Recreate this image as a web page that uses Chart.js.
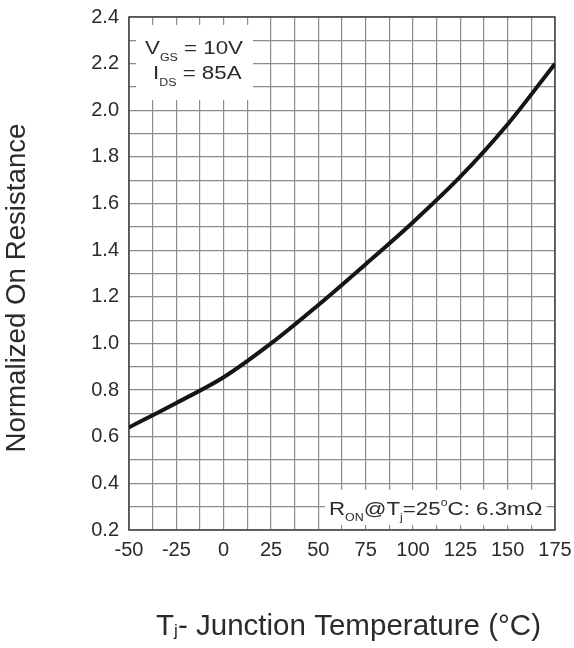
<!DOCTYPE html>
<html>
<head>
<meta charset="utf-8">
<script src="https://cdn.jsdelivr.net/npm/chart.js@4.4.1/dist/chart.umd.min.js"></script>
<style>
  html, body { margin: 0; padding: 0; background: #fff; }
  #wrap { width: 574px; height: 648px; position: relative; }
</style>
</head>
<body>
<div id="wrap"><canvas id="chart"></canvas></div>
<script>
// junction temperature (°C) and normalized on-resistance
const temps = [-50, -25, 0, 25, 50, 75, 100, 125, 150, 175];
const ronNorm = [0.64, 0.745, 0.855, 1.0, 1.165, 1.34, 1.52, 1.715, 1.94, 2.2];

const xMin = -50, xMax = 175, xStep = 12.5;
const yMin = 0.2, yMax = 2.4, yStep = 0.1;

const FONT = "'Liberation Sans', Arial, sans-serif";
const TEXT = "#2b2b2b";
const STRETCH = 1.24; // the figure's labels are drawn wide

// draw text pieces one after another, with small sub/superscripts
function drawRich(ctx, x, y, parts, sx) {
  ctx.save();
  ctx.translate(x, y);
  ctx.scale(sx, 1);
  ctx.fillStyle = TEXT;
  ctx.textBaseline = "alphabetic";
  ctx.textAlign = "left";
  let cx = 0;
  parts.forEach((p) => {
    ctx.font = `${p.size}px ${FONT}`;
    ctx.fillText(p.t, cx, p.dy || 0);
    cx += ctx.measureText(p.t).width;
  });
  ctx.restore();
}

const notes = {
  id: "notes",
  beforeDatasetsDraw(chart) {
    const { ctx, chartArea, scales } = chart;
    const x = scales.x, y = scales.y;

    // plot frame
    ctx.save();
    ctx.strokeStyle = "#4a4a4a";
    ctx.lineWidth = 1.6;
    ctx.strokeRect(chartArea.left, chartArea.top, chartArea.width, chartArea.height);

    // white boxes behind the two notes
    ctx.fillStyle = "#fff";
    const b1l = x.getPixelForValue(-46.3), b1r = x.getPixelForValue(15.5);
    const b1t = y.getPixelForValue(2.366), b1b = y.getPixelForValue(2.044);
    ctx.fillRect(b1l, b1t, b1r - b1l, b1b - b1t);
    const b2l = x.getPixelForValue(53.5), b2r = x.getPixelForValue(170.5);
    const b2t = y.getPixelForValue(0.373), b2b = y.getPixelForValue(0.221);
    ctx.fillRect(b2l, b2t, b2r - b2l, b2b - b2t);
    ctx.restore();

    drawRich(ctx, 145, 54, [
      { t: "V", size: 18 },
      { t: "GS", size: 10, dy: 7 },
      { t: " = 10V", size: 18 },
    ], STRETCH);
    drawRich(ctx, 153, 79, [
      { t: "I", size: 18 },
      { t: "DS", size: 10, dy: 7 },
      { t: " = 85A", size: 18 },
    ], STRETCH);
    drawRich(ctx, 329, 515, [
      { t: "R", size: 18 },
      { t: "ON", size: 10, dy: 6 },
      { t: "@T", size: 18 },
      { t: "j", size: 10, dy: 6 },
      { t: "=25", size: 18 },
      { t: "o", size: 10, dy: -9 },
      { t: "C: 6.3m\u03A9", size: 18 },
    ], STRETCH);
  },
  afterDraw(chart) {
    const { ctx } = chart;
    // x axis title: T with a small j
    ctx.save();
    ctx.font = `29px ${FONT}`;
    const wT = ctx.measureText("T").width;
    const wRest = ctx.measureText("- Junction Temperature (\u00B0C)").width;
    ctx.font = `17px ${FONT}`;
    const wj = ctx.measureText("j").width;
    ctx.restore();
    const total = wT + wj + wRest;
    drawRich(ctx, 156, 635, [
      { t: "T", size: 29 },
      { t: "j", size: 17, dy: 1 },
      { t: "- Junction Temperature (\u00B0C)", size: 29 },
    ], 385 / total);

    // y axis title
    ctx.save();
    ctx.translate(18, 288);
    ctx.rotate(-Math.PI / 2);
    ctx.font = `27px ${FONT}`;
    ctx.fillStyle = TEXT;
    ctx.textAlign = "center";
    ctx.textBaseline = "middle";
    const w = ctx.measureText("Normalized On Resistance").width;
    ctx.scale(329 / w, 1);
    ctx.fillText("Normalized On Resistance", 0, 0);
    ctx.restore();
  },
};

new Chart(document.getElementById("chart"), {
  type: "line",
  data: {
    labels: temps,
    datasets: [
      {
        data: temps.map((t, i) => ({ x: t, y: ronNorm[i] })),
        borderColor: "#151515",
        borderWidth: 4,
        pointRadius: 0,
        cubicInterpolationMode: "monotone",
        fill: false,
      },
    ],
  },
  options: {
    responsive: true,
    maintainAspectRatio: false,
    animation: false,
    layout: { padding: { top: 17, right: 19, left: 0, bottom: 0 } },
    plugins: { legend: { display: false }, tooltip: { enabled: false } },
    scales: {
      x: {
        type: "linear",
        min: xMin,
        max: xMax,
        afterBuildTicks(scale) {
          const ticks = [];
          for (let v = xMin; v <= xMax + 1e-9; v += xStep) ticks.push({ value: v });
          scale.ticks = ticks;
        },
        afterFit(scale) {
          scale.height = 118;
          scale.paddingLeft = 0;
          scale.paddingRight = 0;
        },
        grid: { color: "#8c8c8c", lineWidth: 1.2, drawTicks: false },
        border: { display: false },
        ticks: {
          autoSkip: false,
          maxRotation: 0,
          padding: 8,
          color: TEXT,
          font: { family: FONT, size: 20 },
          callback: (v) => (Math.abs(v % 25) < 1e-9 ? String(v) : ""),
        },
      },
      y: {
        type: "linear",
        min: yMin,
        max: yMax,
        afterBuildTicks(scale) {
          const ticks = [];
          for (let i = 0; i <= Math.round((yMax - yMin) / yStep); i++) {
            ticks.push({ value: +(yMin + i * yStep).toFixed(1) });
          }
          scale.ticks = ticks;
        },
        afterFit(scale) {
          scale.width = 129;
          scale.paddingTop = 0;
          scale.paddingBottom = 0;
        },
        grid: { color: "#8c8c8c", lineWidth: 1.2, drawTicks: false },
        border: { display: false },
        ticks: {
          autoSkip: false,
          padding: 10,
          color: TEXT,
          font: { family: FONT, size: 20 },
          callback: (v) => (Math.round(v * 10) % 2 === 0 ? v.toFixed(1) : ""),
        },
      },
    },
  },
  plugins: [notes],
});
</script>
</body>
</html>
